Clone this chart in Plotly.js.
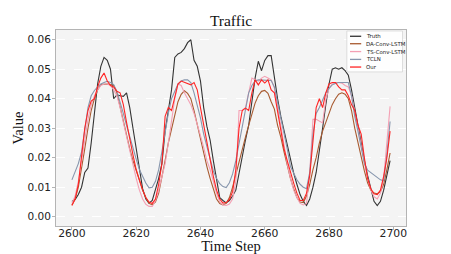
<!DOCTYPE html>
<html>
<head>
<meta charset="utf-8">
<script src="https://cdn.plot.ly/plotly-3.0.1.min.js"></script>
<style>html,body{margin:0;padding:0;background:#fff;}#chart{width:451px;height:254px;}</style>
</head>
<body>
<div id="chart"></div>
<script>
// ---- data ----
const timeStart = 2600;
const timeSteps = Array.from({length: 100}, (_, i) => timeStart + i);

const truth = [
  0.0052,0.0058,0.0075,0.0100,0.0150,0.0165,0.0250,0.0350,0.0450,0.0510,
  0.0540,0.0530,0.0500,0.0400,0.0413,0.0410,0.0408,0.0420,0.0370,0.0300,
  0.0230,0.0160,0.0095,0.0060,0.0046,0.0055,0.0090,0.0130,0.0180,0.0290,
  0.0360,0.0430,0.0540,0.0552,0.0557,0.0570,0.0590,0.0600,0.0530,0.0510,
  0.0460,0.0370,0.0306,0.0260,0.0190,0.0120,0.0065,0.0055,0.0047,0.0055,
  0.0070,0.0090,0.0150,0.0200,0.0260,0.0310,0.0400,0.0470,0.0527,0.0495,
  0.0530,0.0546,0.0546,0.0470,0.0400,0.0340,0.0290,0.0240,0.0190,0.0148,
  0.0110,0.0075,0.0052,0.0038,0.0060,0.0100,0.0150,0.0220,0.0300,0.0380,
  0.0450,0.0500,0.0505,0.0500,0.0505,0.0495,0.0480,0.0430,0.0370,0.0310,
  0.0240,0.0190,0.0140,0.0090,0.0052,0.0038,0.0052,0.0090,0.0137,0.0190
];
const daConvLstm = [
  0.0040,0.0060,0.0100,0.0160,0.0230,0.0300,0.0360,0.0400,0.0430,0.0448,
  0.0450,0.0450,0.0448,0.0445,0.0420,0.0370,0.0320,0.0270,0.0230,0.0190,
  0.0155,0.0120,0.0090,0.0065,0.0045,0.0040,0.0050,0.0080,0.0130,0.0190,
  0.0250,0.0300,0.0350,0.0390,0.0415,0.0427,0.0418,0.0400,0.0360,0.0310,
  0.0260,0.0210,0.0170,0.0130,0.0092,0.0060,0.0045,0.0040,0.0045,0.0065,
  0.0100,0.0145,0.0180,0.0225,0.0270,0.0310,0.0350,0.0385,0.0410,0.0425,
  0.0428,0.0418,0.0390,0.0365,0.0310,0.0270,0.0220,0.0170,0.0130,0.0095,
  0.0065,0.0050,0.0048,0.0070,0.0110,0.0160,0.0200,0.0250,0.0290,0.0320,
  0.0350,0.0380,0.0400,0.0415,0.0420,0.0415,0.0400,0.0360,0.0300,0.0250,
  0.0200,0.0155,0.0115,0.0090,0.0080,0.0078,0.0085,0.0110,0.0160,0.0216
];
const tsConvLstm = [
  0.0045,0.0070,0.0120,0.0190,0.0270,0.0330,0.0380,0.0410,0.0430,0.0445,
  0.0450,0.0450,0.0445,0.0430,0.0410,0.0370,0.0320,0.0270,0.0220,0.0170,
  0.0130,0.0090,0.0060,0.0042,0.0035,0.0035,0.0055,0.0090,0.0135,0.0180,
  0.0250,0.0330,0.0400,0.0450,0.0445,0.0420,0.0400,0.0380,0.0350,0.0315,
  0.0275,0.0235,0.0190,0.0160,0.0115,0.0080,0.0050,0.0040,0.0038,0.0043,
  0.0060,0.0120,0.0360,0.0360,0.0370,0.0420,0.0470,0.0464,0.0460,0.0470,
  0.0476,0.0470,0.0464,0.0436,0.0370,0.0300,0.0240,0.0180,0.0130,0.0090,
  0.0065,0.0045,0.0040,0.0045,0.0150,0.0330,0.0330,0.0323,0.0318,0.0397,
  0.0435,0.0450,0.0455,0.0455,0.0453,0.0445,0.0440,0.0410,0.0360,0.0300,
  0.0240,0.0180,0.0130,0.0090,0.0068,0.0060,0.0080,0.0130,0.0240,0.0374
];
const tcln = [
  0.0125,0.0150,0.0180,0.0220,0.0300,0.0370,0.0410,0.0428,0.0440,0.0450,
  0.0455,0.0459,0.0455,0.0448,0.0425,0.0390,0.0350,0.0310,0.0270,0.0230,
  0.0195,0.0160,0.0135,0.0114,0.0098,0.0100,0.0120,0.0160,0.0220,0.0290,
  0.0350,0.0400,0.0428,0.0450,0.0460,0.0464,0.0464,0.0455,0.0420,0.0380,
  0.0335,0.0280,0.0235,0.0190,0.0155,0.0130,0.0112,0.0102,0.0099,0.0115,
  0.0145,0.0190,0.0250,0.0310,0.0370,0.0420,0.0445,0.0460,0.0464,0.0464,
  0.0464,0.0464,0.0462,0.0440,0.0390,0.0340,0.0290,0.0230,0.0170,0.0145,
  0.0125,0.0110,0.0100,0.0095,0.0150,0.0280,0.0350,0.0370,0.0395,0.0420,
  0.0435,0.0447,0.0452,0.0455,0.0455,0.0455,0.0455,0.0410,0.0340,0.0290,
  0.0230,0.0180,0.0158,0.0150,0.0140,0.0132,0.0125,0.0122,0.0210,0.0323
];
const ours = [
  0.0038,0.0060,0.0110,0.0200,0.0300,0.0360,0.0392,0.0400,0.0440,0.0470,
  0.0487,0.0460,0.0445,0.0440,0.0425,0.0420,0.0380,0.0320,0.0260,0.0210,
  0.0160,0.0125,0.0090,0.0065,0.0050,0.0045,0.0060,0.0110,0.0180,0.0340,
  0.0370,0.0360,0.0410,0.0450,0.0460,0.0455,0.0450,0.0447,0.0455,0.0430,
  0.0370,0.0310,0.0250,0.0190,0.0137,0.0090,0.0060,0.0046,0.0048,0.0058,
  0.0085,0.0160,0.0300,0.0360,0.0368,0.0360,0.0420,0.0464,0.0447,0.0464,
  0.0453,0.0464,0.0430,0.0420,0.0360,0.0300,0.0230,0.0190,0.0150,0.0114,
  0.0080,0.0055,0.0055,0.0080,0.0140,0.0250,0.0370,0.0400,0.0370,0.0420,
  0.0450,0.0455,0.0455,0.0440,0.0430,0.0430,0.0410,0.0380,0.0360,0.0310,
  0.0280,0.0200,0.0130,0.0095,0.0078,0.0075,0.0090,0.0137,0.0200,0.0290
];

const seriesNames = ["Truth", "DA-Conv-LSTM", "TS-Conv-LSTM", "TCLN", "Our"];
const seriesValues = [truth, daConvLstm, tsConvLstm, tcln, ours];
const seriesColors = ["#333333", "#a85a30", "#f4a0b4", "#8796ad", "#ff2424"];
const xTickVals = [2600, 2620, 2640, 2660, 2680, 2700];

// ---- traces ----
const traces = seriesNames.map((name, i) => ({
  type: "scatter",
  mode: "lines",
  name: name,
  x: timeSteps,
  y: seriesValues[i],
  line: {color: seriesColors[i], width: 1.1},
  showlegend: false,
  hoverinfo: "skip"
}));

// ---- custom legend (small, matplotlib-like) ----
const legX0 = 0.831, legX1 = 0.990, legY0 = 0.786, legY1 = 0.995;
const legItemY = [0.968, 0.930, 0.890, 0.850, 0.811];
const shapes = [{
  type: "rect", xref: "paper", yref: "paper",
  x0: legX0, x1: legX1, y0: legY0, y1: legY1,
  fillcolor: "rgba(255,255,255,0.85)",
  line: {color: "#d6d6d6", width: 0.8}
}];
const annotations = [];
seriesNames.forEach((name, i) => {
  shapes.push({
    type: "line", xref: "paper", yref: "paper",
    x0: 0.840, x1: 0.872, y0: legItemY[i], y1: legItemY[i],
    line: {color: seriesColors[i], width: 1.3}
  });
  annotations.push({
    xref: "paper", yref: "paper", x: 0.880, y: legItemY[i],
    xanchor: "left", yanchor: "middle", showarrow: false,
    text: name,
    font: {family: "DejaVu Sans", size: 5.4, color: "#222222"}
  });
});

const layout = {
  width: 451, height: 254,
  margin: {l: 56, r: 45, t: 30, b: 28, pad: 0},
  paper_bgcolor: "#ffffff",
  plot_bgcolor: "#f4f4f4",
  title: {
    text: "Traffic",
    font: {family: "Liberation Serif", size: 15.5, color: "#111111"},
    x: 0.5, xref: "paper", xanchor: "center",
    y: 0.92, yref: "container", yanchor: "middle"
  },
  xaxis: {
    range: [2595.05, 2703.95],
    tickvals: xTickVals,
    ticktext: xTickVals.map(String),
    showgrid: false, zeroline: false,
    showline: true, mirror: true, linecolor: "#b4b4b4", linewidth: 1,
    ticks: "outside", ticklen: 3, tickcolor: "#b4b4b4", tickwidth: 1,
    ticklabelstandoff: -6,
    tickfont: {family: "DejaVu Sans", size: 10.8, color: "#222222"},
    title: {text: "Time Step", font: {family: "Liberation Serif", size: 14.5, color: "#111111"}, standoff: 0}
  },
  yaxis: {
    range: [-0.00315, 0.0633],
    tick0: 0, dtick: 0.01, tickformat: ".2f",
    showgrid: true, gridcolor: "#ffffff", gridwidth: 1, griddash: "dash",
    zeroline: false,
    showline: true, mirror: true, linecolor: "#b4b4b4", linewidth: 1,
    ticks: "outside", ticklen: 3, tickcolor: "#b4b4b4", tickwidth: 1,
    ticklabelstandoff: -1,
    tickfont: {family: "DejaVu Sans", size: 10.5, color: "#222222"},
    title: {text: "Value", font: {family: "Liberation Serif", size: 14.5, color: "#111111"}, standoff: 0}
  },
  shapes: shapes,
  annotations: annotations
};

Plotly.newPlot("chart", traces, layout, {staticPlot: true, displayModeBar: false});
</script>
</body>
</html>
